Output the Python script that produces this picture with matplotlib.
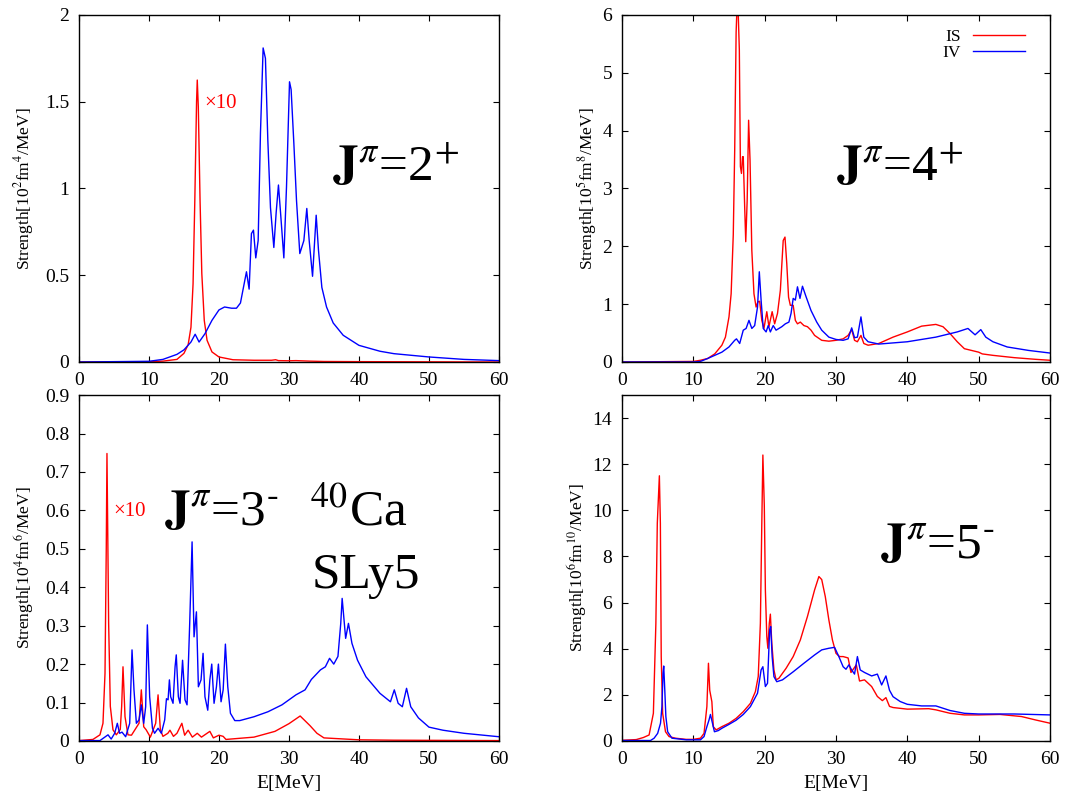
import matplotlib
matplotlib.use("Agg")
import matplotlib.pyplot as plt

# ---- data (E in MeV, strength in panel units) ----
# J=2+ : IS is multiplied by 10
e2_is = [0, 10, 12, 14, 15, 15.6, 16.0, 16.3, 16.55, 16.8, 16.9, 17.05, 17.3, 17.55, 17.9,
         18.3, 19, 20, 22, 25, 27.5, 28.1, 28.5, 30, 31, 33, 35, 40, 60]
s2_is = [0, 0.002, 0.005, 0.015, 0.05, 0.1, 0.2, 0.45, 0.93, 1.5, 1.625, 1.47, 0.93, 0.51, 0.24,
         0.125, 0.058, 0.029, 0.013, 0.01, 0.01, 0.013, 0.008, 0.007, 0.008, 0.005, 0.003, 0.002, 0.0]
e2_iv = [0, 10, 12, 14, 15, 16, 16.6, 17.16, 18, 19, 20, 20.8, 21.8, 22.5, 23.07, 23.5, 23.93,
         24.31, 24.64, 24.93, 25.26, 25.6, 25.93, 26.31, 26.64, 26.98, 27.36, 27.84, 28.17, 28.5,
         28.8, 29.27, 29.65, 30.08, 30.31, 30.7, 31.08, 31.55, 32.13, 32.55, 32.89, 33.37, 33.89,
         34.22, 34.7, 35.37, 36.32, 37.75, 40, 43, 45, 50, 55, 60]
s2_iv = [0, 0.004, 0.015, 0.044, 0.07, 0.115, 0.16, 0.115, 0.163, 0.24, 0.30, 0.317, 0.31, 0.31,
         0.34, 0.43, 0.52, 0.42, 0.74, 0.76, 0.60, 0.70, 1.32, 1.81, 1.75, 1.28, 0.89, 0.66, 0.86,
         1.02, 0.86, 0.60, 1.01, 1.615, 1.57, 1.26, 0.93, 0.625, 0.70, 0.885, 0.70, 0.494, 0.846,
         0.644, 0.43, 0.317, 0.225, 0.154, 0.096, 0.062, 0.048, 0.029, 0.015, 0.008]

# J=4+
e4_is = [0, 10, 11, 12, 13, 14, 14.5, 15, 15.3, 15.6, 15.8, 16.0, 16.2, 16.45, 16.6, 16.75, 16.9,
         17.0, 17.2, 17.35, 17.55, 17.75, 17.95, 18.2, 18.5, 18.8, 19.05, 19.3, 19.6, 19.9, 20.3,
         20.6, 21.05, 21.4, 21.8, 22.2, 22.6, 22.85, 23.1, 23.35, 23.6, 24.0, 24.3, 24.6, 25.0,
         25.5, 26, 26.5, 27, 28, 29, 30, 31, 31.7, 32.2, 32.6, 33.0, 33.5, 33.9, 34.5, 36, 38, 40,
         42, 44, 45, 46, 47, 48, 49, 50, 50.5, 52, 55, 58, 60]
s4_is = [0, 0.01, 0.03, 0.06, 0.14, 0.29, 0.43, 0.78, 1.18, 2.2, 3.66, 5.7, 6.4, 5.4, 3.38, 3.26,
         3.55, 3.55, 2.68, 2.08, 2.8, 4.18, 3.49, 1.93, 1.18, 0.95, 1.04, 1.05, 0.72, 0.58, 0.87,
         0.61, 0.87, 0.66, 0.84, 1.24, 2.1, 2.16, 1.70, 1.12, 0.98, 0.98, 0.72, 0.66, 0.69, 0.63,
         0.61, 0.55, 0.46, 0.375, 0.36, 0.375, 0.40, 0.46, 0.56, 0.375, 0.35, 0.46, 0.32, 0.29,
         0.32, 0.43, 0.52, 0.62, 0.65, 0.61, 0.49, 0.35, 0.23, 0.20, 0.17, 0.14, 0.115, 0.075,
         0.046, 0.03]
e4_iv = [0, 10, 11, 12, 13, 14, 15, 15.8, 16.05, 16.5, 17.0, 17.4, 17.8, 18.2, 18.6, 19.0, 19.25,
         19.5, 19.8, 20.2, 20.5, 20.8, 21.2, 21.6, 22.4, 22.9, 23.4, 23.7, 24.0, 24.3, 24.6, 24.95,
         25.3, 25.8, 26.5, 27.3, 28, 29, 30, 31, 31.7, 32.2, 32.6, 33.0, 33.5, 33.9, 34.5, 36, 40,
         44, 47, 48.5, 49.5, 50.3, 51, 52, 54, 57, 60]
s4_iv = [0, 0.0, 0.01, 0.06, 0.115, 0.17, 0.26, 0.375, 0.40, 0.32, 0.55, 0.58, 0.72, 0.58, 0.63,
         0.95, 1.56, 1.07, 0.58, 0.52, 0.63, 0.52, 0.63, 0.55, 0.61, 0.66, 0.69, 0.84, 1.10, 1.07,
         1.30, 1.10, 1.31, 1.13, 0.89, 0.69, 0.55, 0.43, 0.39, 0.375, 0.40, 0.59, 0.42, 0.43, 0.78,
         0.43, 0.35, 0.31, 0.35, 0.43, 0.52, 0.58, 0.47, 0.56, 0.43, 0.35, 0.26, 0.20, 0.155]

# J=3- : IS is multiplied by 10
e3_is = [0, 2, 3, 3.43, 3.72, 3.9, 4.0, 4.24, 4.48, 4.86, 5.34, 5.9, 6.1, 6.29, 6.58, 7.0, 7.5,
         8.58, 8.91, 9.25, 9.6, 10.2, 10.96, 11.3, 11.63, 12.0, 12.7, 13.0, 13.5, 14.0, 14.7,
         15.1, 15.6, 16.2, 16.9, 17.5, 18.7, 19.2, 20.0, 20.6, 21.0, 25, 28, 30, 31.6, 33, 34,
         35, 40, 45, 60]
s3_is = [0.001, 0.004, 0.016, 0.046, 0.176, 0.5, 0.748, 0.306, 0.09, 0.029, 0.016, 0.03, 0.09,
         0.193, 0.063, 0.016, 0.015, 0.046, 0.133, 0.037, 0.029, 0.01, 0.046, 0.12, 0.029, 0.012,
         0.02, 0.028, 0.012, 0.02, 0.046, 0.015, 0.028, 0.01, 0.02, 0.01, 0.025, 0.008, 0.015,
         0.012, 0.004, 0.01, 0.025, 0.045, 0.065, 0.04, 0.02, 0.008, 0.003, 0.002, 0.001]
e3_iv = [0, 3, 4.15, 4.6, 5.1, 5.48, 5.8, 6.15, 6.67, 7.25, 7.58, 7.86, 8.2, 8.58, 8.91, 9.25,
         9.53, 9.77, 10.1, 10.5, 10.8, 11.3, 11.77, 12.25, 12.5, 12.73, 12.92, 13.1, 13.44, 13.73,
         13.9, 14.2, 14.44, 14.8, 15.15, 15.44, 15.82, 16.16, 16.44, 16.78, 17.06, 17.44, 17.73,
         18.0, 18.4, 18.7, 18.97, 19.3, 19.64, 19.92, 20.3, 20.6, 20.92, 21.26, 21.64, 22.26,
         22.97, 25, 27, 29, 31, 32.3, 33.2, 34.5, 35.2, 35.8, 36.4, 37.0, 37.4, 37.6, 38.1, 38.5,
         39.0, 39.8, 41, 43, 44.5, 45.05, 45.6, 46.2, 46.8, 47.4, 48.5, 50, 52, 55, 60]
s3_iv = [0.001, 0.001, 0.016, 0.005, 0.02, 0.046, 0.02, 0.023, 0.011, 0.046, 0.237, 0.133, 0.046,
         0.055, 0.094, 0.046, 0.089, 0.302, 0.115, 0.033, 0.02, 0.033, 0.02, 0.055, 0.11, 0.107,
         0.159, 0.115, 0.098, 0.193, 0.224, 0.115, 0.098, 0.21, 0.107, 0.094, 0.306, 0.518, 0.271,
         0.336, 0.141, 0.159, 0.228, 0.115, 0.08, 0.159, 0.2, 0.098, 0.141, 0.2, 0.102, 0.133,
         0.252, 0.141, 0.072, 0.053, 0.053, 0.063, 0.076, 0.094, 0.12, 0.133, 0.16, 0.185, 0.193,
         0.215, 0.2, 0.22, 0.306, 0.371, 0.267, 0.306, 0.254, 0.21, 0.167, 0.124, 0.102, 0.133,
         0.098, 0.089, 0.137, 0.089, 0.06, 0.036, 0.028, 0.02, 0.011]

# J=5-
e5_is = [0, 2, 3, 3.8, 4.4, 4.75, 4.95, 5.24, 5.38, 5.5, 5.7, 6.1, 6.6, 7.5, 9, 10, 11, 11.5,
         11.9, 12.12, 12.3, 12.6, 12.8, 13.2, 14, 15, 16, 17, 18, 18.7, 19.1, 19.4, 19.6, 19.75,
         19.95, 20.1, 20.3, 20.45, 20.65, 20.8, 21.0, 21.3, 21.6, 22, 23, 24, 25, 26, 27, 27.6,
         28, 28.5, 29, 29.5, 30, 30.5, 31, 31.7, 32.1, 32.85, 33.3, 34, 35, 35.8, 36.5, 37.0, 37.5,
         38, 40, 43, 44, 46, 48, 50, 53, 56, 58, 60]
s5_is = [0.03, 0.06, 0.15, 0.26, 1.2, 5.1, 9.44, 11.5, 9.44, 3.66, 1.2, 0.4, 0.19, 0.12, 0.07,
         0.07, 0.12, 0.33, 1.49, 3.37, 2.2, 1.7, 0.62, 0.48, 0.62, 0.77, 0.98, 1.27, 1.63, 2.14,
         2.8, 5.1, 9.44, 12.4, 10.2, 6.55, 4.53, 4.02, 5.1, 5.5, 4.24, 3.08, 2.65, 2.72, 3.15,
         3.66, 4.38, 5.4, 6.55, 7.13, 7.0, 6.26, 5.25, 4.38, 3.8, 3.66, 3.66, 3.6, 2.97, 3.3, 2.6,
         2.65, 2.36, 1.93, 1.75, 1.88, 1.5, 1.45, 1.38, 1.40, 1.35, 1.2, 1.13, 1.13, 1.15, 1.06,
         0.91, 0.77]
e5_iv = [0, 4, 4.5, 5.0, 5.4, 5.6, 5.75, 5.85, 6.0, 6.15, 6.4, 7, 9, 11, 11.5, 11.9, 12.2, 12.4,
         12.96, 13.5, 14, 15, 16, 17, 18, 19, 19.5, 19.75, 20.1, 20.4, 20.7, 20.85, 21.05, 21.3,
         21.7, 22.5, 24, 25.5, 27, 28, 29, 29.8, 30.4, 31, 31.4, 31.8, 32.2, 32.6, 33.0, 33.4,
         34, 35, 35.8, 36.4, 37.0, 37.5, 38, 39, 40, 42, 44, 45, 46, 48, 50, 55, 60]
s5_iv = [0.02, 0.02, 0.12, 0.33, 0.77, 1.49, 2.94, 3.25, 2.2, 1.06, 0.4, 0.12, 0.05, 0.05, 0.19,
         0.62, 0.91, 1.15, 0.4, 0.45, 0.55, 0.72, 0.9, 1.15, 1.49, 2.07, 3.08, 3.22, 2.36, 2.5,
         4.82, 4.96, 3.66, 2.79, 2.57, 2.65, 3.0, 3.37, 3.73, 3.95, 4.02, 4.06, 3.66, 3.22, 3.11,
         3.3, 3.08, 2.9, 3.66, 3.08, 2.97, 2.82, 2.9, 2.43, 2.82, 2.2, 1.92, 1.71, 1.59, 1.52,
         1.52, 1.42, 1.32, 1.2, 1.17, 1.17, 1.13]

xticks = [0, 10, 20, 30, 40, 50, 60]
yticks2 = [0, 0.5, 1, 1.5, 2]
ylabels2 = ["0", "0.5", "1", "1.5", "2"]
yticks4 = [0, 1, 2, 3, 4, 5, 6]
yticks3 = [0, 0.1, 0.2, 0.3, 0.4, 0.5, 0.6, 0.7, 0.8, 0.9]
ylabels3 = ["0", "0.1", "0.2", "0.3", "0.4", "0.5", "0.6", "0.7", "0.8", "0.9"]
yticks5 = [0, 2, 4, 6, 8, 10, 12, 14]

plt.rcParams["font.family"] = ["Liberation Serif", "DejaVu Serif"]
plt.rcParams["mathtext.fontset"] = "stix"

RED, BLUE = "#ff0000", "#0000ff"
fig = plt.figure(figsize=(10.7, 7.97), dpi=100)
boxes = [(0.0738, 0.5458, 0.3925, 0.4354), (0.5813, 0.5458, 0.40, 0.4354),
         (0.0738, 0.0703, 0.3925, 0.434), (0.5813, 0.0703, 0.40, 0.434)]
axs = [fig.add_axes(b) for b in boxes]

panels = [
    (e2_is, s2_is, e2_iv, s2_iv, (0, 2), yticks2, ylabels2,
     r"Strength[10$^{2}$fm$^{4}$/MeV]", -0.102),
    (e4_is, s4_is, e4_iv, s4_iv, (0, 6), yticks4, [str(v) for v in yticks4],
     r"Strength[10$^{5}$fm$^{8}$/MeV]", -0.053),
    (e3_is, s3_is, e3_iv, s3_iv, (0, 0.9), yticks3, ylabels3,
     r"Strength[10$^{4}$fm$^{6}$/MeV]", -0.102),
    (e5_is, s5_is, e5_iv, s5_iv, (0, 15), yticks5, [str(v) for v in yticks5],
     r"Strength[10$^{6}$fm$^{10}$/MeV]", -0.076),
]

for ax, (ex, sx, ev, sv, ylim, yt, ytl, ylab, lx) in zip(axs, panels):
    ax.plot(ex, sx, color=RED, lw=1.0, label="IS")
    ax.plot(ev, sv, color=BLUE, lw=1.0, label="IV")
    ax.set_xlim(0, 60)
    ax.set_ylim(*ylim)
    ax.set_xticks(xticks)
    ax.set_yticks(yt)
    ax.set_yticklabels(ytl)
    ax.tick_params(direction="in", top=True, right=True, length=4.5, width=0.8,
                   labelsize=14)
    ax.tick_params(axis="x", pad=7)
    ax.tick_params(axis="y", pad=7)
    for s in ax.spines.values():
        s.set_linewidth(1.0)
    ax.set_ylabel(ylab, fontsize=12.5)
    ax.yaxis.set_label_coords(lx, 0.5)

for ax in axs[2:]:
    ax.set_xlabel("E[MeV]", fontsize=14, labelpad=5)

big = 37
axs[0].text(0.602, 0.524, r"$\mathbf{J}^{\pi}$=2$^{+}$", transform=axs[0].transAxes,
            fontsize=big, va="baseline")
axs[1].text(0.50, 0.524, r"$\mathbf{J}^{\pi}$=4$^{+}$", transform=axs[1].transAxes,
            fontsize=big, va="baseline")
axs[2].text(0.202, 0.624, r"$\mathbf{J}^{\pi}$=3$^{\text{-}}$", transform=axs[2].transAxes,
            fontsize=big, va="baseline")
axs[2].text(0.55, 0.624, r"$^{40}$Ca", transform=axs[2].transAxes, fontsize=big,
            va="baseline")
axs[2].text(0.554, 0.442, "SLy5", transform=axs[2].transAxes, fontsize=big, va="baseline")
axs[3].text(0.603, 0.529, r"$\mathbf{J}^{\pi}$=5$^{\text{-}}$", transform=axs[3].transAxes,
            fontsize=big, va="baseline")

axs[0].text(0.298, 0.746, "×10", color=RED, transform=axs[0].transAxes, fontsize=15,
            va="center")
axs[2].text(0.083, 0.663, "×10", color=RED, transform=axs[2].transAxes, fontsize=15,
            va="center")

axs[1].legend(loc="upper right", bbox_to_anchor=(0.97, 0.995), frameon=False,
              markerfirst=False, fontsize=12.5, handlelength=3.0, labelspacing=0.0,
              handletextpad=0.7, borderpad=0.2)

fig.savefig("out.png", dpi=100)
